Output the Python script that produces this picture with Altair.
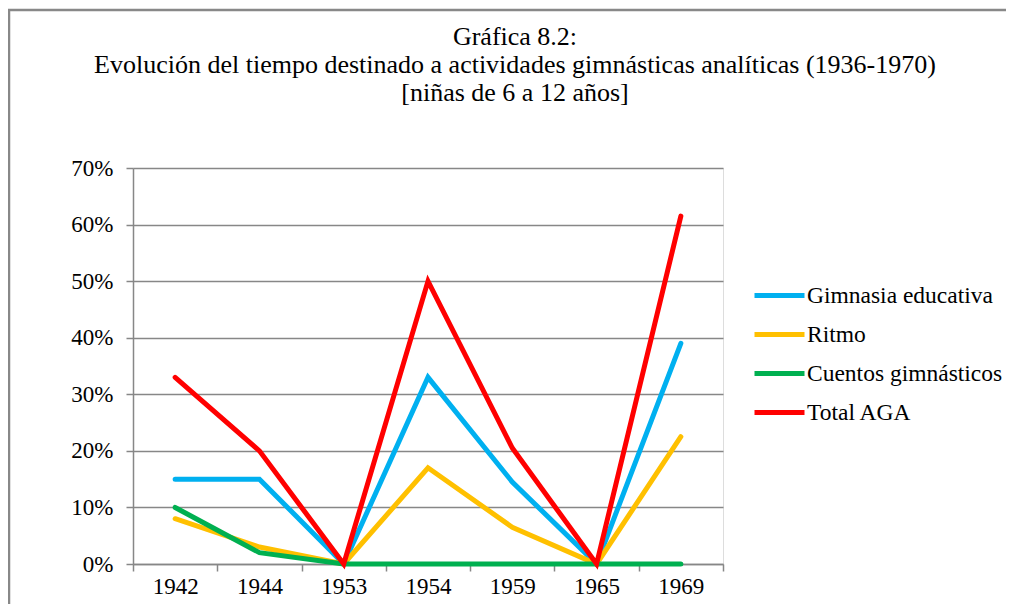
import altair as alt
import pandas as pd

years = ["1942", "1944", "1953", "1954", "1959", "1965", "1969"]
series_names = ["Gimnasia educativa", "Ritmo", "Cuentos gimnásticos", "Total AGA"]
gimnasia = [0.15, 0.15, 0.0, 0.33, 0.145, 0.0, 0.39]
ritmo = [0.08, 0.03, 0.0, 0.17, 0.065, 0.0, 0.225]
cuentos = [0.10, 0.02, 0.0, 0.0, 0.0, 0.0, 0.0]
total = [0.33, 0.20, 0.0, 0.50, 0.205, 0.0, 0.615]
colors = ["#00B0F0", "#FFC000", "#00B050", "#FF0000"]
y_ticks = [0, 0.1, 0.2, 0.3, 0.4, 0.5, 0.6, 0.7]
title_lines = ["Gráfica 8.2:",
               "Evolución del tiempo destinado a actividades gimnásticas analíticas (1936-1970)",
               "[niñas de 6 a 12 años]"]

rows = []
for i, (name, vals) in enumerate(zip(series_names, [gimnasia, ritmo, cuentos, total])):
    for yr, v in zip(years, vals):
        rows.append({"Año": yr, "Serie": name, "Valor": v, "k": i})
df = pd.DataFrame(rows)

FONT = "Liberation Serif, Times New Roman, serif"
GRID = "#878787"

lines = alt.Chart(df).mark_line(strokeWidth=5, strokeCap="round", strokeJoin="miter").encode(
    x=alt.X("Año:N", sort=years,
            scale=alt.Scale(type="band", paddingInner=0, paddingOuter=0),
            axis=alt.Axis(title=None, labelAngle=0, tickBand="extent", domain=True,
                          domainColor=GRID, domainWidth=1.5, tickColor=GRID, tickWidth=1.5,
                          tickSize=7, labelFont=FONT, labelFontSize=23, labelColor="#000000",
                          labelPadding=4, grid=False)),
    y=alt.Y("Valor:Q", scale=alt.Scale(domain=[0, 0.7], nice=False),
            axis=alt.Axis(title=None, format=".0%", values=y_ticks, grid=True,
                          gridColor=GRID, gridWidth=1.5, domainColor=GRID, domainWidth=1.5,
                          tickColor=GRID, tickWidth=1.5, tickSize=7,
                          labelFont=FONT, labelFontSize=23, labelColor="#000000",
                          labelPadding=13)),
    color=alt.Color("Serie:N", sort=series_names,
                    scale=alt.Scale(domain=series_names, range=colors),
                    legend=alt.Legend(title=None, orient="none", legendX=619, legendY=100,
                                      symbolType="stroke", symbolSize=2500, symbolStrokeWidth=5,
                                      labelFont=FONT, labelFontSize=23.5, labelColor="#000000",
                                      labelOffset=0, rowPadding=-10, padding=0, labelLimit=400)),
    order=alt.Order("k:Q"),
    detail="Serie:N",
)

frame = alt.Chart(pd.DataFrame({"a": [0]})).mark_rect(
    fill=None, stroke="#888888", strokeWidth=2.5, clip=False
).encode(
    x=alt.value(-124), x2=alt.value(1200), y=alt.value(-158), y2=alt.value(900)
)

title_layers = []
for i, t in enumerate(title_lines):
    title_layers.append(
        alt.Chart(pd.DataFrame({"t": [t]})).mark_text(
            font=FONT, fontSize=26, color="#000000", align="center", baseline="middle"
        ).encode(text="t:N", x=alt.value(382), y=alt.value(-131 + 28 * i))
    )

chart = alt.layer(frame, lines, *title_layers).properties(
    width=590,
    height=396,
    autosize=alt.AutoSizeParams(type="none"),
    padding={"left": 125, "top": 160, "right": 283, "bottom": 40},
).configure_view(stroke=None).configure(background="white")

chart.save("out.html", embed_options={"renderer": "svg", "actions": False})
